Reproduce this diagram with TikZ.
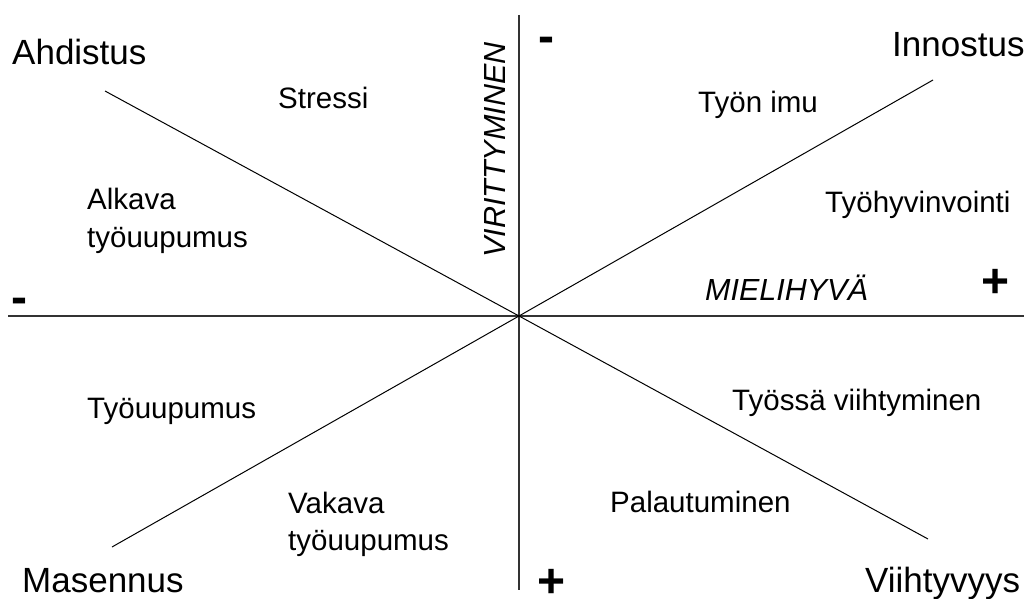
\documentclass[tikz,border=0pt]{standalone}
\usepackage{fontspec}
\setmainfont{Liberation Sans}
\usetikzlibrary{positioning}
\begin{document}
\begin{tikzpicture}[
        x=1pt,y=-1pt,
        big/.style={anchor=base west,inner sep=0pt,font=\fontsize{35}{42}\selectfont},
        small/.style={anchor=base west,inner sep=0pt,align=left,font=\fontsize{29.5}{37}\selectfont},
        axislabel/.style={small,font=\fontsize{30.5}{37}\selectfont\itshape},
        sign/.style={inner sep=0pt,font=\fontsize{48}{48}\selectfont\bfseries},
        axis/.style={line width=2pt,black!80},
        diag/.style={line width=1pt}
        ]
        \useasboundingbox (0,0) rectangle (1026,599);

        \coordinate (o)   at (519,316);
        \coordinate (x_0) at (8,316);
        \coordinate (x_1) at (1024,316);
        \coordinate (y_0) at (519,15);
        \coordinate (y_1) at (519,590);
        \coordinate (d_0) at (105,91);
        \coordinate (d_1) at (928,539);
        \coordinate (e_0) at (933,80);
        \coordinate (e_1) at (112,547);

        \draw[axis] (x_0) -- (x_1);
        \draw[axis] (y_0) -- (y_1);
        \draw[diag] (d_0) -- (o) -- (d_1);
        \draw[diag] (e_0) -- (o) -- (e_1);

        \node[big]   (ahdistus)  at (12,65)   {Ahdistus};
        \node[big]   (innostus)  at (892,57)  {Innostus};
        \node[big]   (masennus)  at (22,592)  {Masennus};
        \node[big]   (viihtyv)   at (865,592) {Viihtyvyys};

        \node[small] (stressi)   at (278,109) {Stressi};
        \node[small] (alkava)    at (87,247)  {Alkava\\työuupumus};
        \node[small] (tyonimu)   at (698,113) {Työn imu};
        \node[small] (hyvinv)    at (825,212) {Työhyvinvointi};
        \node[small] (uupumus)   at (87,418)  {Työuupumus};
        \node[small] (vakava)    at (288,550) {Vakava\\työuupumus};
        \node[small] (viihtym)   at (732,410) {Työssä viihtyminen};
        \node[small] (palaut)    at (610,512) {Palautuminen};

        \node[axislabel]          (mielihyva) at (705,300) {MIELIHYVÄ};
        \node[axislabel,rotate=90] (viritt)   at (505,258) {VIRITTYMINEN};

        \node[sign] (minus_x) at (19,305.5)  {-};
        \node[sign] (minus_y) at (546,44.5)  {-};
        \node[sign] (plus_x)  at (995.5,283) {+};
        \node[sign] (plus_y)  at (551.5,583) {+};
\end{tikzpicture}
\end{document}
